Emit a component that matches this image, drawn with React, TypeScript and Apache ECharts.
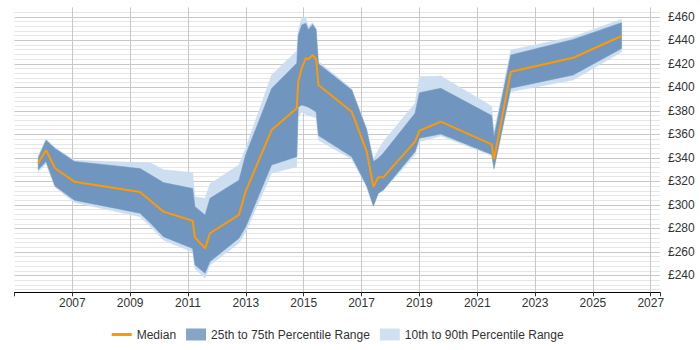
import React, { useEffect, useRef } from 'react';
import * as echarts from 'echarts';

// Sample dates (decimal years)
const years = [
  2005.82, 2006.09, 2006.4, 2007.07, 2009.34, 2009.68, 2010.15, 2011.16, 2011.24, 2011.59,
  2011.76, 2012.76, 2012.99, 2013.89, 2014.76, 2014.81, 2014.93, 2015.07, 2015.16, 2015.31,
  2015.43, 2015.51, 2016.66, 2017.18, 2017.41, 2017.58, 2017.75, 2018.85, 2019.0, 2019.74,
  2021.5, 2021.58, 2022.16, 2024.32, 2025.99,
];
const median = [
  335.4, 346.7, 331.2, 319.8, 311, 304, 294.3, 286.6, 272.5, 263.1,
  275.9, 291.5, 311.3, 363.7, 382.2, 404.8, 416.2, 424.7, 423.9, 427.5,
  423.9, 402, 379.3, 345.3, 315.5, 323.5, 323.5, 353.8, 363.1, 370.8,
  351.5, 339, 413.3, 425.2, 443.7,
];
const p90 = [
  342, 356, 349, 338, 336, 336, 330, 327.5, 307, 305.7,
  318, 334, 348, 410.5, 431, 448, 459, 460, 452, 455,
  450, 422, 399, 365, 339, 346.7, 353.8, 386.5, 409, 409.7,
  384, 362, 431.8, 443, 458,
];
const p75 = [
  340, 355, 348, 337, 331, 326, 319, 314, 298.5, 291.5,
  305.7, 321, 342.5, 399, 420.5, 444, 453, 454.5, 449, 453.5,
  449, 420, 397.8, 363.7, 337, 339.7, 344, 378, 395.5, 399.2,
  376, 358, 427.5, 440.8, 455,
];
const p25 = [
  330, 337, 316, 304, 293, 285, 273, 263, 249, 242,
  251.8, 271.6, 281, 334, 341, 383, 385, 384, 383, 381,
  379, 359, 341, 316, 299, 310, 312.7, 345.3, 356.7, 360.3,
  343, 331, 399.2, 410.5, 433,
];
const p10 = [
  328, 335, 315, 302, 290, 282, 270, 260, 246, 237.6,
  249, 267.4, 277, 327, 332.5, 375, 379, 377, 376, 375,
  374, 355, 339, 315, 299, 310, 312, 342.5, 353.8, 358.6,
  342, 330, 396.3, 406.3, 430,
];

const legendNames = ['Median', '25th to 75th Percentile Range', '10th to 90th Percentile Range'];

const Y_MIN = 224;
const Y_MAX = 468;
const X_MIN = 2005;
const X_MAX = 2027.32;
const FONT = 'Arial, "Liberation Sans", Helvetica, sans-serif';

const bandSeries = (
  lo: number[], hi: number[], fill: string, legendColor: string, name: string, z: number,
) => ({
  type: 'custom',
  name,
  z,
  silent: true,
  coordinateSystem: 'cartesian2d',
  data: [[years[0], lo[0], hi[0]]],
  encode: { x: 0, y: 1 },
  itemStyle: { color: legendColor },
  renderItem: (_params: any, api: any) => {
    const top = years.map((y, i) => api.coord([y, hi[i]]));
    const bot = years.map((y, i) => api.coord([y, lo[i]])).reverse();
    return {
      type: 'polygon',
      shape: { points: top.concat(bot) },
      style: { fill, stroke: fill, lineWidth: 0.5 },
    };
  },
});

export default function App() {
  const ref = useRef<HTMLDivElement>(null);
  useEffect(() => {
    document.body.style.margin = '0';
    if (!ref.current) return;
    const chart = echarts.init(ref.current, undefined, { renderer: 'svg' });
    const minor = '#e6e6e6';
    const major = '#c8c8c8';
    const option: any = {
      animation: false,
      grid: { left: 14.5, right: 40, top: 7.4, bottom: 55.7 },
      xAxis: {
        type: 'value', min: X_MIN, max: X_MAX, interval: 2, offset: -2,
        axisLine: { show: true, lineStyle: { color: '#000', width: 1 } },
        axisTick: { show: true, length: 4, lineStyle: { color: '#333' } },
        axisLabel: {
          margin: 5, color: '#333', fontSize: 12, fontFamily: FONT,
          formatter: (v: number) => {
            const r = Math.round(v);
            return Math.abs(v - r) < 1e-6 && r > X_MIN ? String(r) : '';
          },
        },
        splitLine: { show: true, showMinLine: false, showMaxLine: false, lineStyle: { color: major, width: 1 } },
      },
      yAxis: {
        type: 'value', position: 'right', min: Y_MIN, max: Y_MAX, splitNumber: 12,
        axisLine: { show: false }, axisTick: { show: false },
        minorTick: { show: false, splitNumber: 5 },
        minorSplitLine: { show: true, lineStyle: { color: minor, width: 1 } },
        axisLabel: {
          margin: 8, color: '#333', fontSize: 12, fontFamily: FONT, showMinLabel: false, showMaxLabel: false,
          formatter: (v: number) => (Math.abs(v % 20) < 1e-6 ? '£' + Math.round(v) : ''),
        },
        splitLine: { show: true, showMinLine: false, showMaxLine: false, lineStyle: { color: major, width: 1 } },
      },
      legend: {
        left: 106.7, top: 323.5, itemWidth: 20, itemHeight: 12, itemGap: 10, selectedMode: false,
        textStyle: { fontSize: 12, color: '#333', fontFamily: FONT },
        data: [
          { name: legendNames[0], icon: 'path://M0,0H20V3H0Z', itemStyle: { color: '#ff9900', borderWidth: 0, opacity: 1 } },
          { name: legendNames[1], icon: 'rect', itemStyle: { color: '#87a5c6', borderWidth: 0, opacity: 1 } },
          { name: legendNames[2], icon: 'rect', itemStyle: { color: '#d0e0f0', borderWidth: 0, opacity: 1 } },
        ],
      },
      series: [
        bandSeries(p10, p90, '#cddef0', '#d0e0f0', legendNames[2], 2),
        bandSeries(p25, p75, '#7096bf', '#87a5c6', legendNames[1], 3),
        {
          name: legendNames[0], type: 'line', data: years.map((y, i) => [y, median[i]]),
          symbol: 'none', silent: true,
          lineStyle: { color: '#ff9900', width: 2 }, itemStyle: { color: '#ff9900' }, z: 5,
        },
      ],
    };
    chart.setOption(option);
    return () => chart.dispose();
  }, []);
  return <div ref={ref} style={{ width: 700, height: 350 }} />;
}
